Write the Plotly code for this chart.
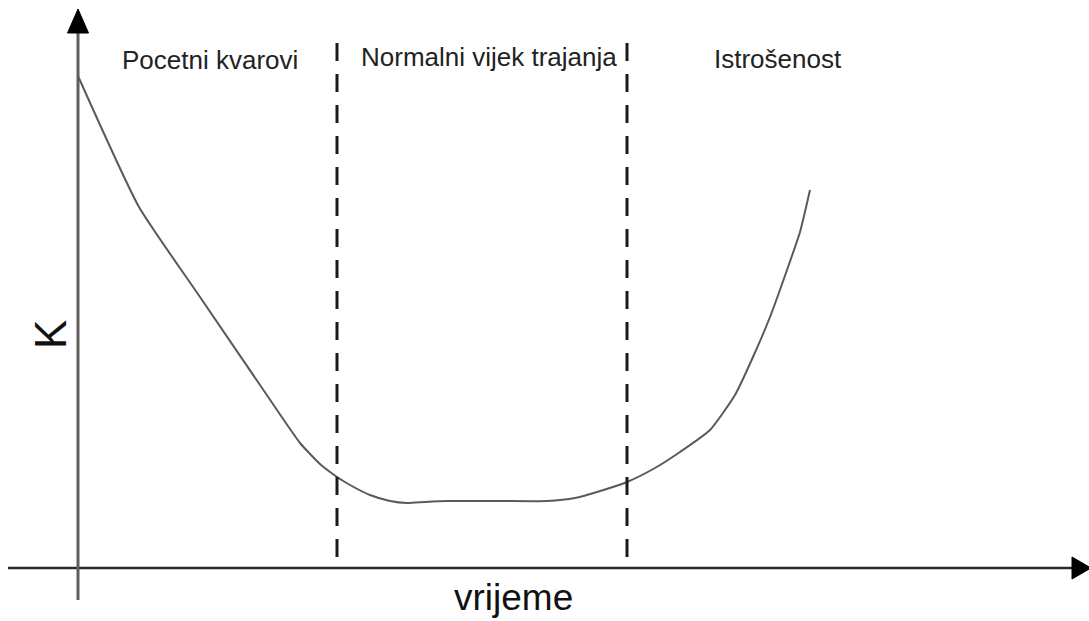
import plotly.graph_objects as go

# ---- data (arbitrary units: time t, rate K) ----
time_vals = [0, 6.1, 12.2, 18.2, 22.2, 24.2, 25.2, 25.9, 27.2, 29.2, 31.2, 32.9, 34.7,
             36.9, 42.2, 46.9, 49.7, 51.9, 54.9, 57.7, 60.2, 63.2, 65.7, 67.5, 69.2,
             70.9, 72.2, 73.2]
k_vals = [49.2, 36.1, 27.1, 18.3, 12.5, 10.4, 9.6, 9.1, 8.3, 7.3, 6.7, 6.5, 6.6,
          6.7, 6.7, 6.7, 7.0, 7.6, 8.6, 10.0, 11.6, 13.8, 17.3, 21.1, 25.1,
          29.8, 33.6, 37.8]
phase_bounds = [25.9, 54.9]
phase_labels = ["Pocetni kvarovi", "Normalni vijek trajanja", "Istrošenost"]
x_title = "vrijeme"
y_title = "K"

# ---- geometry (layout only) ----
X_RANGE = [-7.8, 101.1]
Y_RANGE = [-5.3, 56.8]
FONT = "Liberation Sans, Arial, sans-serif"

fig = go.Figure()
fig.add_trace(go.Scatter(x=time_vals, y=k_vals, mode="lines",
                         line=dict(color="#5a5a5a", width=2, shape="spline", smoothing=0.5),
                         hoverinfo="skip"))

shapes = []
# x axis line + arrow
shapes.append(dict(type="line", xref="x", yref="y", x0=-7.0, x1=99.8, y0=0, y1=0,
                   line=dict(color="#2a2a2a", width=2.5)))
shapes.append(dict(type="path", xref="x", yref="y",
                   path="M 99.4 1.1 L 101.3 0 L 99.4 -1.1 Z",
                   fillcolor="#000", line=dict(color="#000", width=1)))
# y axis line + arrow
shapes.append(dict(type="line", xref="x", yref="y", x0=0, x1=0, y0=-3.2, y1=53.8,
                   line=dict(color="#5f5f5f", width=3)))
shapes.append(dict(type="path", xref="x", yref="y",
                   path="M -1.05 53.5 L 0 55.9 L 1.05 53.5 Z",
                   fillcolor="#000", line=dict(color="#000", width=1)))
# phase boundaries
for b in phase_bounds:
    shapes.append(dict(type="line", xref="x", yref="y", x0=b, x1=b, y0=52.5, y1=0,
                       line=dict(color="#1a1a1a", width=3, dash="18px,13px")))

annotations = []
label_x = [4.2, 28.1, 63.4]
label_y = [50.8, 51.1, 50.9]
for txt, lx, ly in zip(phase_labels, label_x, label_y):
    annotations.append(dict(x=lx, y=ly, xref="x", yref="y", text=txt, showarrow=False,
                            xanchor="left", yanchor="middle",
                            font=dict(family=FONT, size=26, color="#222")))
annotations.append(dict(x=43.5, y=-2.9, xref="x", yref="y", text=x_title, showarrow=False,
                        xanchor="center", yanchor="middle",
                        font=dict(family=FONT, size=37, color="#111")))
annotations.append(dict(x=-2.8, y=23.3, xref="x", yref="y", text=y_title, showarrow=False,
                        xanchor="center", yanchor="middle", textangle=-90,
                        font=dict(family=FONT, size=44, color="#111")))

fig.update_layout(
    width=1089, height=621, autosize=False,
    margin=dict(l=0, r=0, t=0, b=0),
    paper_bgcolor="white", plot_bgcolor="white",
    showlegend=False,
    xaxis=dict(range=X_RANGE, visible=False, fixedrange=True),
    yaxis=dict(range=Y_RANGE, visible=False, fixedrange=True),
    shapes=shapes, annotations=annotations,
)
fig.write_html("out.html", config={"displayModeBar": False},
               post_script="document.body.style.margin='0';document.body.style.overflow='hidden';")
